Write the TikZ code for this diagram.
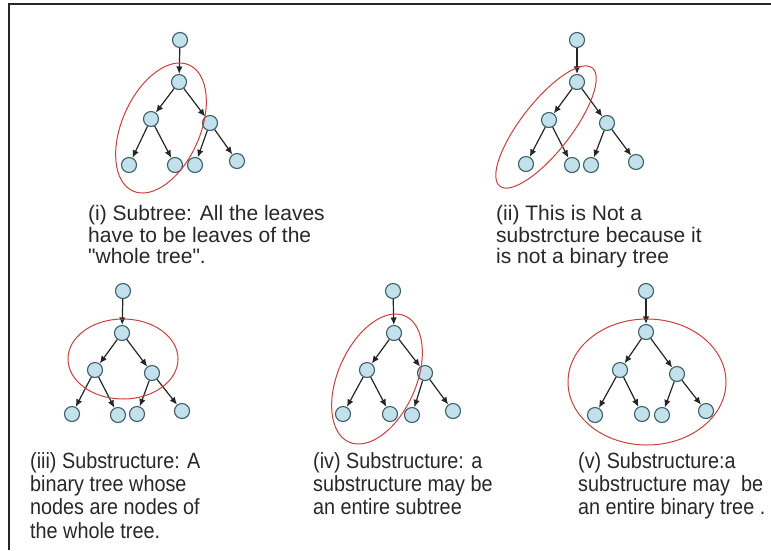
\documentclass[tikz,border=0pt]{standalone}
\usepackage{fontspec}
\setmainfont{Liberation Sans}[Ligatures=TeXOff]
\newfontfamily\narrowsans[FakeStretch=0.9]{Liberation Sans}
\usetikzlibrary{arrows.meta}
\definecolor{nodefill}{HTML}{C2E1EA}
\definecolor{nodeline}{HTML}{3D5F6A}
\definecolor{ringred}{HTML}{C8413F}
\definecolor{inktext}{HTML}{282828}

% A complete binary tree of depth 3 hanging from one extra root node.
% #1 name prefix, #2 top node, #3 its child, #4-#5 next level, #6-#9 leaves
\newcommand{\bintree}[9]{%
  \node[tn] (#1r) at (#2) {};
  \node[tn] (#1a) at (#3) {};
  \node[tn] (#1b) at (#4) {};
  \node[tn] (#1c) at (#5) {};
  \node[tn] (#1d) at (#6) {};
  \node[tn] (#1e) at (#7) {};
  \node[tn] (#1f) at (#8) {};
  \node[tn] (#1g) at (#9) {};
  \draw[edge] (#1r) -- (#1a);
  \draw[edge] (#1a) -- (#1b);
  \draw[edge] (#1a) -- (#1c);
  \draw[edge] (#1b) -- (#1d);
  \draw[edge] (#1b) -- (#1e);
  \draw[edge] (#1c) -- (#1f);
  \draw[edge] (#1c) -- (#1g);
}

\begin{document}
\begin{tikzpicture}[x=1pt,y=-1pt,
  tn/.style={circle,draw=nodeline,fill=nodefill,line width=1.1pt,minimum size=15pt,inner sep=0pt},
  edge/.style={-{Latex[length=7.5pt,width=6.5pt]},line width=1.2pt,black!85},
  ring/.style={draw=ringred,line width=1pt},
  note/.style={anchor=north west,align=left,inner sep=0pt,text=inktext,
    font=\fontsize{21}{21.7}\selectfont},
  lownote/.style={anchor=north west,align=left,inner sep=0pt,text=inktext,
    font=\narrowsans\fontsize{22}{23.3}\selectfont}]
\useasboundingbox (0,0) rectangle (771,550);
\fill[white] (0,0) rectangle (771,550);
% outer frame
\draw[line width=1.5pt,black!85] (9,550) |- (771,4);

% trees
\bintree{p}{180,40}{179,82}{151,119}{210,123}{129,165}{175,165}{195,165}{237,161}
\bintree{q}{577,40}{577,82}{549,120}{607,123}{526,164}{572,165}{591,165}{636,162}
\bintree{s}{123,291}{122,333}{95,370}{152,373}{72,414}{118,415}{137,414}{182,411}
\bintree{t}{393,291}{394,333}{367,370}{425,373}{343,414}{390,414}{412,415}{453,411}
\bintree{u}{646,291}{646,332}{620,370}{677,374}{595,415}{642,414}{662,415}{706,411}

% rings marking the chosen parts
\draw[ring,shift={(161,128)},rotate=-24] (0,0) ellipse [x radius=39pt,y radius=69pt];
\draw[ring,shift={(546,127)},rotate=-38] (0,0) ellipse [x radius=25pt,y radius=75pt];
\draw[ring] (123,359) ellipse [x radius=55pt,y radius=40pt];
\draw[ring,shift={(377,379)},rotate=-24] (0,0) ellipse [x radius=39pt,y radius=69pt];
\draw[ring] (647,382) ellipse [x radius=79pt,y radius=63pt];

% captions
\node[note] (capi) at (88,205) {(i) Subtree: All the leaves\\have to be leaves of the\\"whole tree".};
\node[note] (capii) at (496,205) {(ii) This is Not a\\substrcture because it\\is not a binary tree};
\node[lownote] (capiii) at (30,452) {(iii) Substructure: A\\binary tree whose\\nodes are nodes of\\the whole tree.};
\node[lownote] (capiv) at (313,452) {(iv) Substructure: a\\substructure may be\\an entire subtree};
\node[lownote] (capv) at (578,452) {(v) Substructure:a\\substructure may\ \ be\\an entire binary tree .};
\end{tikzpicture}
\end{document}
